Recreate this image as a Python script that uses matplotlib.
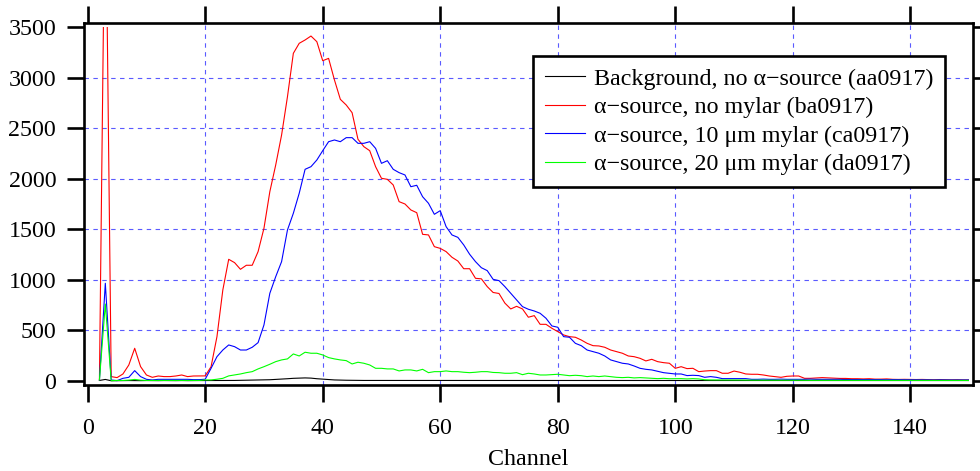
import numpy as np
import matplotlib.pyplot as plt
from matplotlib.patches import Rectangle

plt.rcParams['font.family'] = ['Liberation Serif', 'DejaVu Serif']

# Channels 2..150
channel = np.arange(2, 151)

background = [5, 15, 2, 3, 3, 4, 3, 3, 4, 3, 3, 4, 3, 3, 4, 3, 4, 4, 4,
              4, 4, 5, 5, 5, 6, 8, 8, 9, 10,
              12, 15, 18, 22, 26, 28, 30, 28, 22, 18,
              15, 10, 8, 7, 6, 5, 5, 5, 5, 5] + [4] * 100

no_mylar = [10, 5200, 43, 33, 69, 158, 323, 142, 59, 36, 49, 43, 43, 49, 59, 43, 49, 49, 50,
            141, 438, 900, 1203, 1170, 1104, 1144, 1144, 1279, 1510,
            1872, 2136, 2432, 2811, 3240, 3339, 3372, 3411, 3355, 3167,
            3190, 2976, 2785, 2729, 2653, 2390, 2317, 2277, 2119, 2004,
            1994, 1938, 1773, 1750, 1691, 1664, 1450, 1444, 1328, 1311,
            1279, 1223, 1186, 1110, 1110, 1015, 1010, 933, 875, 865,
            770, 712, 738, 712, 630, 646, 560, 560, 521, 488,
            455, 438, 432, 405, 372, 349, 346, 333, 306, 290,
            274, 247, 240, 224, 198, 214, 191, 181, 175, 125,
            141, 122, 125, 92, 98, 102, 102, 76, 76, 98,
            86, 69, 66, 66, 59, 49, 43, 36, 46, 49,
            49, 26, 26, 30, 33, 30, 28, 25, 25, 22,
            22, 20, 22, 18, 18, 20, 16, 15, 16, 15,
            14, 15, 13, 12, 14, 12, 11, 12, 10, 10]

mylar_10 = [10, 966, 10, 3, 26, 36, 102, 43, 16, 10, 16, 16, 16, 16, 16, 16, 13, 13, 17,
            125, 240, 306, 356, 339, 306, 306, 333, 379, 554,
            867, 1031, 1180, 1493, 1658, 1856, 2093, 2119, 2185, 2277,
            2366, 2383, 2366, 2406, 2406, 2350, 2350, 2366, 2300, 2152,
            2178, 2093, 2060, 2037, 1921, 1935, 1822, 1757, 1648, 1684,
            1526, 1444, 1420, 1345, 1253, 1180, 1120, 1091, 1005, 992,
            933, 867, 801, 735, 709, 692, 669, 620, 544, 531,
            438, 432, 372, 349, 306, 290, 274, 247, 208, 191,
            175, 168, 148, 125, 115, 109, 96, 82, 76, 69,
            69, 53, 56, 53, 36, 43, 36, 23, 23, 23,
            23, 23, 16, 16, 18, 16, 16, 18, 16, 16,
            16, 16, 18, 16, 16, 15, 15, 16, 14, 14,
            15, 14, 13, 14, 13, 12, 13, 12, 12, 12,
            11, 12, 11, 10, 11, 10, 10, 10, 10, 10]

mylar_20 = [10, 761, 3, 5, 5, 8, 15, 8, 5, 5, 5, 5, 5, 5, 5, 5, 5, 5, 10,
            10, 17, 26, 50, 59, 69, 82, 92, 119, 141,
            165, 191, 208, 218, 267, 247, 284, 274, 274, 257,
            231, 218, 208, 201, 168, 185, 175, 158, 125, 125,
            119, 119, 99, 109, 109, 99, 115, 82, 92, 92,
            99, 92, 92, 86, 82, 86, 92, 92, 84, 82,
            76, 76, 82, 62, 76, 69, 59, 59, 63, 66,
            59, 52, 56, 52, 43, 49, 43, 49, 43, 36,
            33, 36, 30, 33, 30, 26, 23, 26, 22, 23,
            23, 20, 23, 20, 12, 10, 10, 10, 9, 9,
            9, 8, 8, 8, 8, 7, 7, 7, 7, 7,
            7, 6, 6, 6, 6, 6, 6, 6, 5, 5,
            5, 5, 5, 5, 5, 5, 5, 5, 5, 5,
            5, 5, 5, 5, 5, 5, 5, 5, 5, 5]

labels = ['Background, no \u03b1\u2212source (aa0917)',
          '\u03b1\u2212source, no mylar (ba0917)',
          '\u03b1\u2212source, 10 \u03bcm mylar (ca0917)',
          '\u03b1\u2212source, 20 \u03bcm mylar (da0917)']
colors = ['black', '#ff0000', '#0000ff', '#00ff00']

fig = plt.figure(figsize=(9.8, 4.71), dpi=100)
ax = fig.add_axes([0.0857, 0.1826, 0.9069, 0.7686])

# Igor-style: data clipped to the 0..150 x 0..3500 box, frame sits slightly outside
clip = Rectangle((0, -100), 150, 3600, transform=ax.transData)
for ys, c, lab in zip([background, no_mylar, mylar_10, mylar_20], colors, labels):
    line, = ax.plot(channel, ys, color=c, lw=0.8, label=lab)
    line.set_clip_path(clip)

ax.set_xlim(-0.63, 150.63)
ax.set_ylim(-40, 3540)
ax.set_xticks(np.arange(0, 141, 20))
ax.set_yticks(np.arange(0, 3501, 500))

ax.grid(True, color='#5a5aff', lw=0.8, ls=(0, (4, 4)))
ax.xaxis.get_gridlines()[0].set_visible(False)
ax.yaxis.get_gridlines()[0].set_visible(False)
ax.yaxis.get_gridlines()[-1].set_visible(False)

for s in ax.spines.values():
    s.set_linewidth(1.9)
ax.tick_params(which='major', direction='out', length=12, width=1.9,
               top=True, right=True, labelsize=17.3)
ax.tick_params(axis='x', pad=12)
ax.tick_params(axis='y', pad=8)

ax.set_xlabel('Channel', fontsize=17.3, labelpad=7)

leg = ax.legend(loc='upper right', bbox_to_anchor=(0.969, 0.909), borderaxespad=0,
                fontsize=17.3, handlelength=1.7, handletextpad=0.35, labelspacing=0.28,
                borderpad=0.5, fancybox=False, framealpha=1, edgecolor='black')
leg.get_frame().set_linewidth(1.9)

fig.savefig('out.png', dpi=100)
